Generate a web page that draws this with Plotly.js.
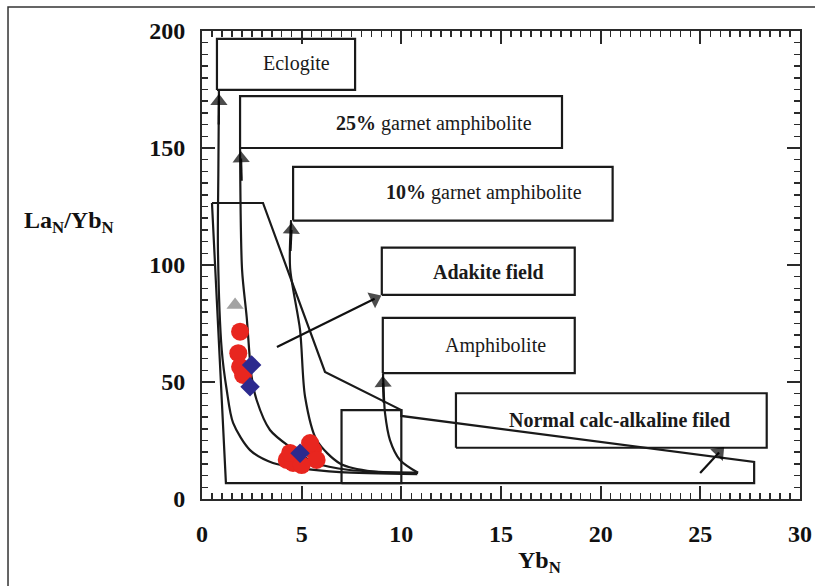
<!DOCTYPE html>
<html>
<head>
<meta charset="utf-8">
<script src="https://cdn.plot.ly/plotly-3.0.1.min.js"></script>
<style>html,body{margin:0;padding:0;background:#fff;}#chart{width:815px;height:586px;}</style>
</head>
<body>
<div id="chart"></div>
<script>
// ---- Data ----
// melting trend curves (Yb_N, La_N/Yb_N)
const eclogiteX = [0.85, 0.82, 0.80, 0.99, 1.24, 1.56, 2.41, 3.56, 4.92, 6.92, 10.8];
const eclogiteY = [174.8, 140, 106.4, 63.7, 46.6, 32.5, 20.9, 15.4, 13.2, 11.5, 10.6];
const garnet25X = [1.91, 2.01, 2.24, 2.49, 2.74, 3.41, 4.42, 5.70, 7.40, 10.8];
const garnet25Y = [150, 97.9, 77.9, 52.3, 42.3, 29.5, 22.2, 15.4, 12.4, 11.2];
const garnet10X = [4.47, 4.42, 4.92, 5.17, 5.75, 6.92, 8.58, 10.84];
const garnet10Y = [119.2, 98.7, 72.2, 43.7, 25.2, 15.2, 11.7, 11.2];
const amphX = [9.08, 9.12, 9.18, 9.43, 9.93, 10.84];
const amphY = [53.8, 45, 36.8, 25.2, 16.7, 11.2];
// field outlines
const adakiteFieldX = [0.5, 3.06, 6.17, 10.0, 10.0, 1.2, 0.5];
const adakiteFieldY = [126.5, 126.5, 54.3, 38.0, 6.8, 6.8, 126.5];
const calcAlkFieldX = [7.0, 7.0, 10.0, 10.0, 27.7, 27.7, 7.0];
const calcAlkFieldY = [6.8, 38.0, 38.0, 35.5, 15.8, 6.8, 6.8];
// label boxes [x0, x1, y0, y1]
const boxNames = ["Eclogite", "<b>25%</b> garnet amphibolite", "<b>10%</b> garnet amphibolite", "<b>Adakite field</b>", "Amphibolite", "<b>Normal calc-alkaline filed</b>"];
const boxX0 = [0.75, 1.91, 4.57, 9.02, 9.07, 12.74];
const boxX1 = [7.68, 18.06, 20.6, 18.7, 18.7, 28.33];
const boxY0 = [174.8, 150.0, 119.0, 87.2, 53.8, 21.9];
const boxY1 = [196.6, 172.2, 141.9, 107.4, 77.4, 45.2];
const labelX = [4.72, 11.62, 14.15, 14.38, 14.7, 20.92];
const labelY = [185.9, 160.3, 130.8, 97.0, 65.8, 33.8];
// arrows: tail -> head
const arrowTailX = [0.84, 1.99, 4.44, 9.12, 3.76, 24.99];
const arrowTailY = [160, 136, 106, 41, 65, 11.1];
const arrowHeadX = [0.85, 1.96, 4.49, 9.08, 8.66, 25.94];
const arrowHeadY = [170.0, 145.5, 115.0, 49.5, 85.6, 19.9];
// samples
const redX = [1.91, 1.82, 1.91, 2.06, 4.25, 4.57, 5.57, 5.75, 5.42, 4.42, 5.0];
const redY = [71.5, 62.3, 56.5, 53.0, 16.7, 15.4, 20.9, 16.7, 23.9, 19.7, 14.5];
const blueX = [2.49, 2.41, 4.92];
const blueY = [57.3, 48.0, 19.5];
const grayX = [1.66];
const grayY = [82.9];

const serif = "Liberation Serif";
const lineStyle = {color: "#1a1a1a", width: 2.2};
const traces = [];
function addLine(x, y, spline) {
  traces.push({x: x, y: y, type: "scatter", mode: "lines", hoverinfo: "skip", showlegend: false,
    line: Object.assign({}, lineStyle, spline ? {shape: "spline", smoothing: 0.8} : {})});
}
addLine(adakiteFieldX, adakiteFieldY, false);
addLine(calcAlkFieldX, calcAlkFieldY, false);
addLine(eclogiteX, eclogiteY, true);
addLine(garnet25X, garnet25Y, true);
addLine(garnet10X, garnet10Y, true);
addLine(amphX, amphY, true);
for (let i = 0; i < boxNames.length; i++) {
  addLine([boxX0[i], boxX1[i], boxX1[i], boxX0[i], boxX0[i]], [boxY0[i], boxY0[i], boxY1[i], boxY1[i], boxY0[i]], false);
}
// arrows as line + triangle marker at the head
for (let i = 0; i < arrowHeadX.length; i++) {
  traces.push({x: [arrowTailX[i], arrowHeadX[i]], y: [arrowTailY[i], arrowHeadY[i]], type: "scatter",
    mode: "lines+markers", showlegend: false, hoverinfo: "skip",
    line: {color: "#111", width: 2.2},
    marker: {symbol: "triangle-up", angleref: "previous", size: [0, 15], color: "#000", line: {width: 0}}});
}
traces.push({x: redX, y: redY, type: "scatter", mode: "markers", showlegend: false,
  marker: {symbol: "circle", size: 18, color: "#e8261f", line: {width: 0}}});
traces.push({x: blueX, y: blueY, type: "scatter", mode: "markers", showlegend: false,
  marker: {symbol: "diamond", size: 15, color: "#2c2a8e", line: {width: 0}}});
traces.push({x: grayX, y: grayY, type: "scatter", mode: "markers", showlegend: false,
  marker: {symbol: "triangle-up", size: 15, color: "#a3a3a3", line: {width: 0}}});

const annotations = [];
for (let i = 0; i < boxNames.length; i++) {
  annotations.push({x: labelX[i], y: labelY[i], xref: "x", yref: "y", text: boxNames[i], showarrow: false,
    font: {family: serif, size: 20, color: "#1a1a1a"}});
}
annotations.push({xref: "paper", yref: "paper", x: -0.301, y: 0.592, xanchor: "left", yanchor: "middle",
  text: "La<sub>N</sub>/Yb<sub>N</sub>", showarrow: false, font: {family: serif, size: 24, color: "#111", weight: "bold"}});
annotations.push({xref: "paper", yref: "paper", x: 0.565, y: -0.135, xanchor: "center", yanchor: "middle",
  text: "Yb<sub>N</sub>", showarrow: false, font: {family: serif, size: 24, color: "#111", weight: "bold"}});

const axisCommon = {
  showline: true, linewidth: 2, linecolor: "#2a2a2a", mirror: "allticks",
  ticks: "inside", ticklen: 13, tickwidth: 2, tickcolor: "#2a2a2a",
  showgrid: false, zeroline: false,
  tickfont: {family: serif, size: 24, color: "#111", weight: "bold"}
};
const layout = {
  width: 815, height: 586,
  margin: {l: 202, r: 15, t: 31, b: 87},
  paper_bgcolor: "#fff", plot_bgcolor: "#fff",
  showlegend: false,
  xaxis: Object.assign({}, axisCommon, {range: [0, 30], dtick: 5, tick0: 0, ticklabelstandoff: 12,
    minor: {dtick: 0.5, ticks: "inside", ticklen: 6, tickwidth: 1.5, tickcolor: "#2a2a2a"}}),
  yaxis: Object.assign({}, axisCommon, {range: [0, 200], dtick: 50, tick0: 0, ticklabelstandoff: 10,
    minor: {dtick: 5, ticks: "inside", ticklen: 6, tickwidth: 1.5, tickcolor: "#2a2a2a"}}),
  annotations: annotations,
  shapes: [{type: "rect", xref: "paper", yref: "paper", x0: -0.3244, x1: 1.06, y0: -0.22, y1: 1.0513,
    line: {color: "#333", width: 1.5}, layer: "below"}]
};
Plotly.newPlot("chart", traces, layout, {staticPlot: true, displayModeBar: false});
</script>
</body>
</html>
